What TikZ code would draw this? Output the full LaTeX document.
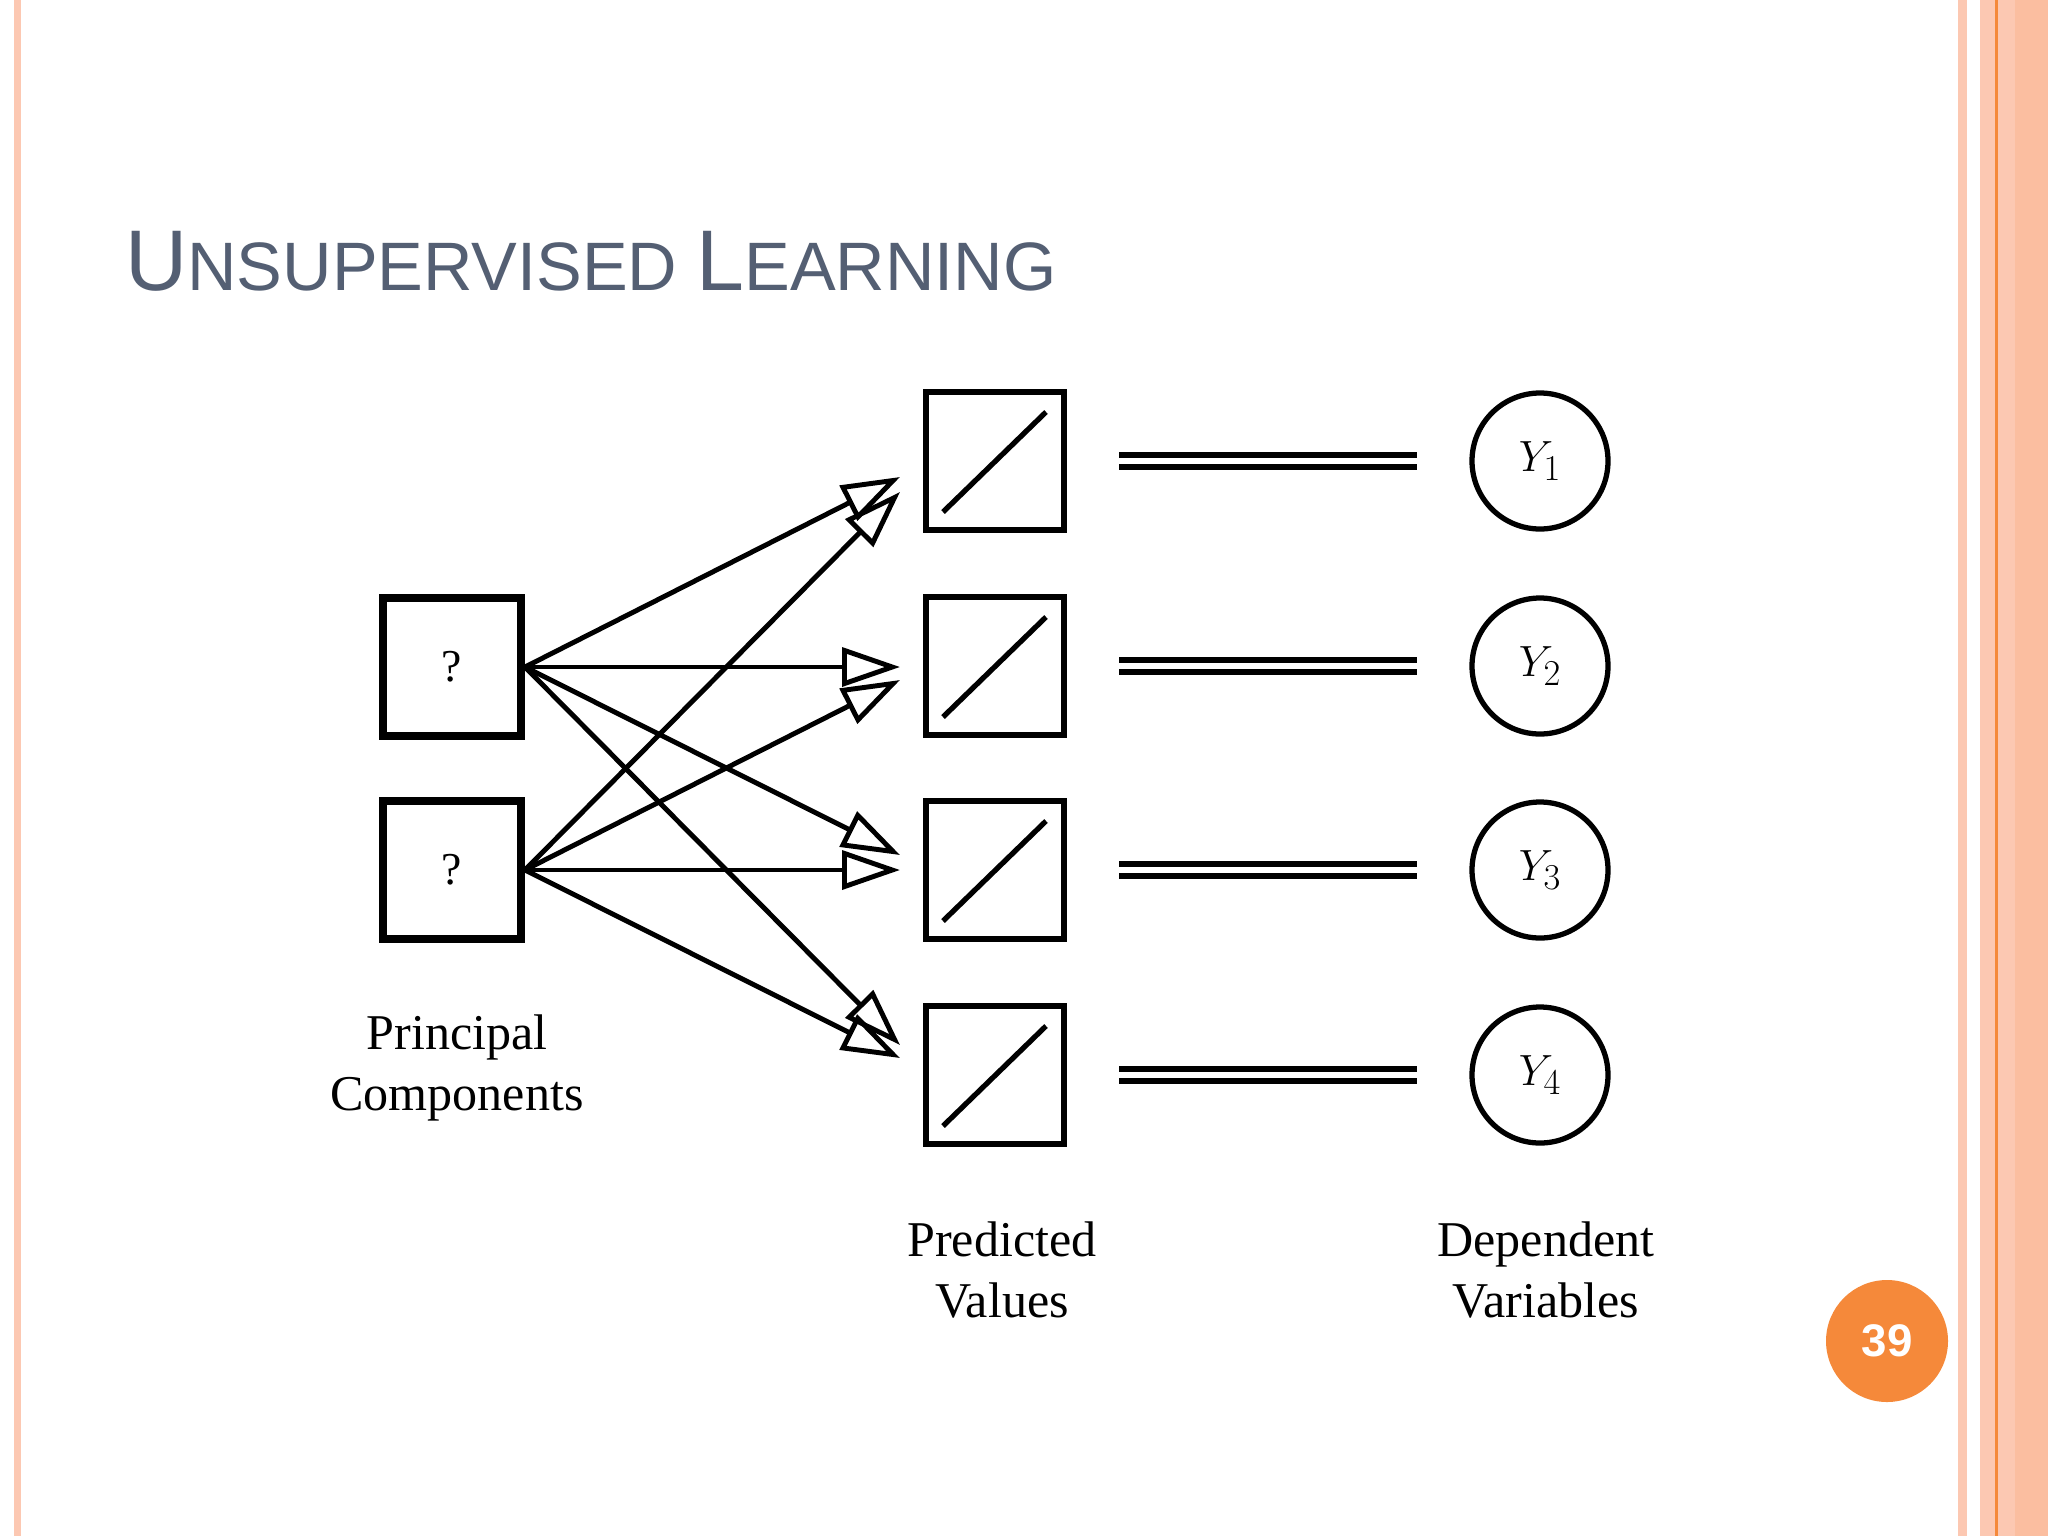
\documentclass[tikz,border=0pt]{standalone}
\usepackage{fontspec}
\setmainfont{Liberation Serif}
\newfontfamily\sansf{Liberation Sans}
\usetikzlibrary{arrows.meta}
\definecolor{titlec}{HTML}{545F73}
\definecolor{salmon}{HTML}{FCC8B2}
\definecolor{orng}{HTML}{F5893A}
\begin{document}
\begin{tikzpicture}[x=0.02cm,y=-0.02cm,
  pc/.style={draw,line width=4.5pt,minimum size=138*0.02cm,inner sep=0pt,font=\fontsize{26}{30}\selectfont},
  pv/.style={draw,line width=3pt,minimum size=138*0.02cm,inner sep=0pt},
  dv/.style={draw,circle,line width=3pt,minimum size=136*0.02cm,inner sep=0pt,font=\fontsize{30}{34}\selectfont},
  arr/.style={line width=2.8pt,-{Triangle[open,length=33pt,width=22pt,line width=2.8pt]}},
  lbl/.style={align=center,font=\fontsize{28.5}{35}\selectfont},
  dbl/.style={line width=3pt}]
\fill[white] (0,0) rectangle (2048,1536);
\useasboundingbox (0,0) rectangle (2048,1536);
% borders
\fill[salmon] (14,0) rectangle (21,1536);
\fill[salmon] (1958,0) rectangle (1967,1536);
\fill[salmon] (1980,0) rectangle (2048,1536);
\fill[salmon!85!orng] (2015,0) rectangle (2048,1536);
\fill[orng] (1995,0) rectangle (1998,1536);
% title
\node[anchor=base west,text=titlec,inner sep=0pt,font=\sansf] (title) at (125,290)
 {\fontsize{49}{49}\selectfont U\fontsize{39}{39}\selectfont NSUPERVISED \fontsize{49}{49}\selectfont L\fontsize{39}{39}\selectfont EARNING};
% principal components
\node[pc] (p1) at (452,667) {?};
\node[pc] (p2) at (452,870) {?};
% predicted values
\foreach \i/\y in {1/461,2/666,3/870,4/1075}{
  \node[pv] (v\i) at (995,\y) {};
  \draw[line width=3pt] ([shift={(-52,51)}]v\i.center) coordinate (d\i a) -- ([shift={(51,-49)}]v\i.center) coordinate (d\i b);
  \coordinate (l\i a) at (1119,\y-6); \coordinate (l\i b) at (1417,\y-6);
  \coordinate (m\i a) at (1119,\y+6); \coordinate (m\i b) at (1417,\y+6);
  \draw[dbl] (l\i a) -- (l\i b); \draw[dbl] (m\i a) -- (m\i b);
  \node[dv] (y\i) at (1540,\y) {$Y_{\i}$};
}
% arrow tips
\coordinate (t11) at (900,477); \coordinate (t12) at (900,667);
\coordinate (t13) at (900,855); \coordinate (t14) at (900,1045);
\coordinate (t21) at (900,492); \coordinate (t22) at (900,680);
\coordinate (t23) at (900,870); \coordinate (t24) at (900,1058);
\foreach \j in {1,...,4}{
  \draw[arr] (p1.east) -- (t1\j);
  \draw[arr] (p2.east) -- (t2\j);
}
% labels
\node[lbl] (lpc) at (457,1068) {Principal\\Components};
\node[lbl] (lpv) at (1002,1270) {Predicted\\Values};
\node[lbl] (ldv) at (1546,1270) {Dependent\\Variables};
% page number
\node[circle,fill=orng,minimum size=122*0.02cm,text=white,font=\sansf\bfseries\fontsize{26}{30}\selectfont] (pg) at (1887,1341) {39};
\end{tikzpicture}
\end{document}
